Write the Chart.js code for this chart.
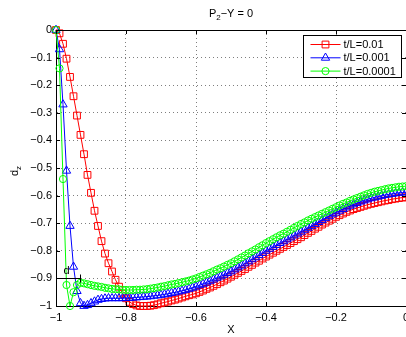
<!DOCTYPE html>
<html>
<head>
  <title>P2-Y = 0</title>
  <script src="https://cdn.jsdelivr.net/npm/chart.js@4.4.1/dist/chart.umd.min.js"></script>
  <style>
    body { margin: 0; background: #fff; }
    #wrap { width: 406px; height: 337px; overflow: hidden; }
  </style>
</head>
<body>
  <div id="wrap"><canvas id="plot" width="430" height="337"></canvas></div>
  <script>
    // x positions shared by all three runs
    var xs = [-1.00,-0.99,-0.98,-0.97,-0.96,-0.95,-0.94,-0.93,-0.92,-0.91,
      -0.90,-0.89,-0.88,-0.87,-0.86,-0.85,-0.84,-0.83,-0.82,-0.81,
      -0.80,-0.79,-0.78,-0.77,-0.76,-0.75,-0.74,-0.73,-0.72,-0.71,
      -0.70,-0.69,-0.68,-0.67,-0.66,-0.65,-0.64,-0.63,-0.62,-0.61,
      -0.60,-0.59,-0.58,-0.57,-0.56,-0.55,-0.54,-0.53,-0.52,-0.51,
      -0.50,-0.49,-0.48,-0.47,-0.46,-0.45,-0.44,-0.43,-0.42,-0.41,
      -0.40,-0.39,-0.38,-0.37,-0.36,-0.35,-0.34,-0.33,-0.32,-0.31,
      -0.30,-0.29,-0.28,-0.27,-0.26,-0.25,-0.24,-0.23,-0.22,-0.21,
      -0.20,-0.19,-0.18,-0.17,-0.16,-0.15,-0.14,-0.13,-0.12,-0.11,
      -0.10,-0.09,-0.08,-0.07,-0.06,-0.05,-0.04,-0.03,-0.02,-0.01,
      0.00];

    // t/L = 0.01
    var dz01 = [0,-0.012,-0.05,-0.104,-0.17,-0.24,-0.31,-0.38,-0.45,-0.525,
      -0.59,-0.655,-0.71,-0.765,-0.81,-0.845,-0.875,-0.905,-0.93,-0.955,
      -0.972,-0.985,-0.993,-0.998,-1.0,-1.0,-1.0,-0.999,-0.997,-0.994,
      -0.990,-0.987,-0.984,-0.980,-0.977,-0.973,-0.969,-0.965,-0.961,-0.958,
      -0.954,-0.949,-0.944,-0.938,-0.933,-0.927,-0.921,-0.914,-0.908,-0.901,
      -0.894,-0.887,-0.880,-0.873,-0.866,-0.858,-0.851,-0.843,-0.836,-0.828,
      -0.821,-0.814,-0.807,-0.800,-0.793,-0.786,-0.779,-0.772,-0.765,-0.758,
      -0.751,-0.743,-0.735,-0.728,-0.720,-0.713,-0.705,-0.698,-0.691,-0.684,
      -0.677,-0.671,-0.665,-0.659,-0.654,-0.649,-0.645,-0.641,-0.637,-0.633,
      -0.630,-0.627,-0.624,-0.621,-0.618,-0.616,-0.613,-0.611,-0.609,-0.607,
      -0.606];

    // t/L = 0.001
    var dz001 = [0,-0.07,-0.27,-0.51,-0.71,-0.858,-0.946,-0.99,-1.0,-0.997,
      -0.99,-0.984,-0.978,-0.975,-0.973,-0.972,-0.972,-0.972,-0.972,-0.972,
      -0.971,-0.971,-0.970,-0.969,-0.968,-0.967,-0.966,-0.965,-0.963,-0.962,
      -0.960,-0.958,-0.956,-0.953,-0.951,-0.948,-0.945,-0.942,-0.938,-0.934,
      -0.930,-0.925,-0.920,-0.915,-0.909,-0.904,-0.898,-0.893,-0.887,-0.881,
      -0.875,-0.868,-0.861,-0.854,-0.846,-0.839,-0.831,-0.824,-0.816,-0.808,
      -0.800,-0.793,-0.786,-0.779,-0.772,-0.766,-0.759,-0.752,-0.745,-0.738,
      -0.731,-0.724,-0.717,-0.710,-0.703,-0.696,-0.689,-0.682,-0.675,-0.668,
      -0.662,-0.655,-0.649,-0.643,-0.637,-0.632,-0.627,-0.622,-0.618,-0.614,
      -0.610,-0.607,-0.604,-0.601,-0.598,-0.596,-0.594,-0.592,-0.590,-0.589,
      -0.588];

    // t/L = 0.0001
    var dz0001 = [0,-0.139,-0.54,-0.924,-1.0,-0.95,-0.924,-0.916,-0.918,-0.921,
      -0.924,-0.927,-0.929,-0.931,-0.934,-0.936,-0.938,-0.939,-0.940,-0.941,
      -0.942,-0.942,-0.942,-0.941,-0.941,-0.940,-0.939,-0.937,-0.935,-0.933,
      -0.930,-0.928,-0.925,-0.922,-0.920,-0.917,-0.914,-0.911,-0.908,-0.904,
      -0.900,-0.895,-0.890,-0.885,-0.880,-0.874,-0.868,-0.863,-0.857,-0.851,
      -0.845,-0.838,-0.831,-0.824,-0.817,-0.809,-0.802,-0.795,-0.787,-0.780,
      -0.772,-0.765,-0.758,-0.751,-0.744,-0.738,-0.731,-0.724,-0.717,-0.710,
      -0.703,-0.697,-0.690,-0.684,-0.678,-0.672,-0.666,-0.660,-0.654,-0.648,
      -0.642,-0.636,-0.630,-0.625,-0.619,-0.614,-0.609,-0.604,-0.599,-0.594,
      -0.590,-0.586,-0.583,-0.580,-0.577,-0.574,-0.572,-0.570,-0.568,-0.567,
      -0.566];

    var seriesLabels = ['t/L=0.01', 't/L=0.001', 't/L=0.0001'];
    var seriesColors = ['#ff0000', '#0000ff', '#00ff00'];
    var seriesMarkers = ['rect', 'triangle', 'circle'];
    var markerRadius = [4.8, 4.8, 3.6];

    // the little data cursor left on the figure
    var cursorX = [-1, -0.93];
    var cursorY = -0.9;
    var cursorText = 'd';
    var cursorTextAt = [-0.97, -0.872];

    var FONT = '"Liberation Sans", Arial, sans-serif';

    function minusLabel(v) {
      v = Math.round(v * 10) / 10;
      if (v === 0) return '0';
      var s = Math.abs(v) === 1 ? '1' : Math.abs(v).toFixed(1);
      return (v < 0 ? '\u2212' : '') + s;
    }

    function pts(ys) {
      return xs.map((x, i) => ({ x: x, y: ys[i] }));
    }

    var allY = [dz01, dz001, dz0001];
    var datasets = allY.map((ys, k) => ({
      label: seriesLabels[k],
      data: pts(ys),
      borderColor: seriesColors[k],
      borderWidth: 1,
      pointStyle: seriesMarkers[k],
      pointRadius: markerRadius[k],
      pointBorderColor: seriesColors[k],
      pointBackgroundColor: 'rgba(0,0,0,0)',
      pointBorderWidth: 1,
      tension: 0,
      clip: false,
      order: 3 - k   // later runs on top, like matlab
    }));

    function subText(ctx, parts, x, y, align) {
      // parts: [text, isSub]
      var big = '11px ' + FONT, small = '8px ' + FONT;
      var w = 0;
      parts.forEach(p => { ctx.font = p[1] ? small : big; w += ctx.measureText(p[0]).width; });
      var cx = align === 'center' ? x - w / 2 : x;
      ctx.textAlign = 'left';
      parts.forEach(p => {
        ctx.font = p[1] ? small : big;
        ctx.fillText(p[0], cx, p[1] ? y + 3 : y);
        cx += ctx.measureText(p[0]).width;
      });
    }

    var matlabFrame = {
      id: 'matlabFrame',
      afterDatasetsDraw(chart) {
        var ctx = chart.ctx, a = chart.chartArea;
        var sx = chart.scales.x, sy = chart.scales.y;
        ctx.save();
        ctx.strokeStyle = '#000';
        ctx.lineWidth = 1;

        // top edge of the box
        ctx.beginPath();
        ctx.moveTo(a.left, a.top + 0.5);
        ctx.lineTo(a.right, a.top + 0.5);
        ctx.stroke();

        // inward tick marks
        ctx.beginPath();
        sx.ticks.forEach(t => {
          var px = Math.round(sx.getPixelForValue(t.value)) + 0.5;
          ctx.moveTo(px, a.bottom); ctx.lineTo(px, a.bottom - 4);
          ctx.moveTo(px, a.top); ctx.lineTo(px, a.top + 4);
        });
        sy.ticks.forEach(t => {
          var py = Math.round(sy.getPixelForValue(t.value)) + 0.5;
          ctx.moveTo(a.left, py); ctx.lineTo(a.left + 4, py);
          ctx.moveTo(a.right, py); ctx.lineTo(a.right - 4, py);
        });
        ctx.stroke();

        // data cursor
        var cy = Math.round(sy.getPixelForValue(cursorY)) + 0.5;
        var cx0 = sx.getPixelForValue(cursorX[0]);
        var cx1 = Math.round(sx.getPixelForValue(cursorX[1])) + 0.5;
        ctx.beginPath();
        ctx.moveTo(cx0, cy); ctx.lineTo(cx1, cy);
        ctx.moveTo(cx1, cy - 4); ctx.lineTo(cx1, cy + 4);
        ctx.stroke();
        ctx.fillStyle = '#000';
        ctx.font = '11px ' + FONT;
        ctx.textAlign = 'center';
        ctx.textBaseline = 'middle';
        ctx.fillText(cursorText, sx.getPixelForValue(cursorTextAt[0]), sy.getPixelForValue(cursorTextAt[1]));

        // legend box
        var bw = 98, bh = 42;
        var bx = Math.round(a.right - 5 - bw) + 0.5, by = Math.round(a.top + 5) + 0.5;
        ctx.fillStyle = '#fff';
        ctx.fillRect(bx, by, bw, bh);
        ctx.strokeRect(bx, by, bw, bh);
        seriesLabels.forEach((lab, k) => {
          var ry = by + 9 + k * 13.3;
          ctx.strokeStyle = seriesColors[k];
          ctx.lineWidth = 1;
          ctx.beginPath();
          ctx.moveTo(bx + 7, ry); ctx.lineTo(bx + 37, ry);
          ctx.stroke();
          ctx.fillStyle = 'rgba(0,0,0,0)';
          Chart.helpers.drawPoint(ctx, {
            pointStyle: seriesMarkers[k], radius: markerRadius[k], rotation: 0, borderWidth: 1
          }, bx + 22, ry);
          ctx.fillStyle = '#000';
          ctx.font = '11px ' + FONT;
          ctx.textAlign = 'left';
          ctx.textBaseline = 'middle';
          ctx.fillText(lab, bx + 40, ry + 0.5);
        });

        // title
        ctx.fillStyle = '#000';
        ctx.textBaseline = 'alphabetic';
        var mid = (a.left + a.right) / 2;
        subText(ctx, [['P', false], ['2', true], ['\u2212Y = 0', false]], mid, 17, 'center');

        // x label
        ctx.font = '11px ' + FONT;
        ctx.textAlign = 'center';
        ctx.fillText('X', mid, 333);

        // y label, rotated
        ctx.save();
        ctx.translate(18, (a.top + a.bottom) / 2 + 3);
        ctx.rotate(-Math.PI / 2);
        subText(ctx, [['d', false], ['z', true]], 0, 0, 'center');
        ctx.restore();

        ctx.restore();
      }
    };

    var ctx = document.getElementById('plot').getContext('2d');
    new Chart(ctx, {
      type: 'line',
      data: { datasets: datasets },
      plugins: [matlabFrame],
      options: {
        responsive: false,
        animation: false,
        events: [],
        layout: { padding: { top: 30, right: 24, left: 0, bottom: 0 } },
        plugins: { legend: { display: false }, tooltip: { enabled: false }, title: { display: false } },
        scales: {
          x: {
            type: 'linear',
            min: -1, max: 0,
            afterFit: (s) => { s.height = 31; },
            ticks: { stepSize: 0.2, padding: 5, color: '#000', font: { family: FONT, size: 11 },
              maxRotation: 0, callback: (v) => minusLabel(v) },
            grid: { color: 'rgba(0,0,0,0.5)', drawTicks: false, lineWidth: 1 },
            border: { display: true, color: '#000', width: 1, dash: [1, 3] }
          },
          y: {
            type: 'linear',
            min: -1, max: 0,
            afterFit: (s) => { s.width = 56; },
            ticks: { stepSize: 0.1, padding: 4, color: '#000', font: { family: FONT, size: 11 },
              callback: (v) => minusLabel(v) },
            grid: { color: 'rgba(0,0,0,0.5)', drawTicks: false, lineWidth: 1 },
            border: { display: true, color: '#000', width: 1, dash: [1, 3] }
          }
        }
      }
    });
  </script>
</body>
</html>
